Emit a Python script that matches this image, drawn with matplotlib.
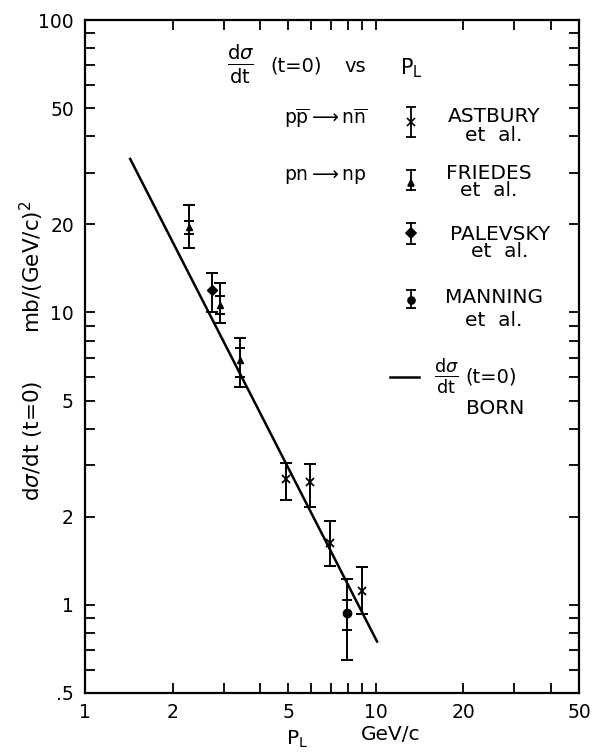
import numpy as np
import matplotlib.pyplot as plt
from matplotlib.ticker import FixedLocator, FixedFormatter, LogLocator, NullFormatter

plt.rcParams['font.family'] = ['DejaVu Sans']
plt.rcParams['mathtext.fontset'] = 'dejavusans'

# Astbury et al.  p pbar -> n nbar
astbury_p = [4.91, 5.94, 6.96, 8.97]
astbury_ds = [2.70, 2.63, 1.63, 1.12]
astbury_hi = [3.06, 3.03, 1.93, 1.35]
astbury_lo = [2.28, 2.16, 1.36, 0.93]

# Friedes et al.  pn -> np
friedes_p = [2.28, 2.91, 3.41]
friedes_ds = [19.6, 10.6, 6.88]
friedes_hi = [23.3, 12.6, 8.18]
friedes_lo = [16.6, 9.2, 5.56]
friedes_ihi = [20.6, 11.4, 7.55]
friedes_ilo = [18.6, 9.9, 6.01]

# Palevsky et al.
palevsky_p = [2.73]
palevsky_ds = [11.9]
palevsky_hi = [13.6]
palevsky_lo = [10.0]

# Manning et al.
manning_p = [7.96]
manning_ds = [0.94]
manning_hi = [1.23]
manning_lo = [0.65]
manning_ihi = [1.04]
manning_ilo = [0.82]

# Born curve end points
born_p = [1.43, 10.1]
born_ds = [33.5, 0.75]

xticks = [1, 2, 5, 10, 20, 50]
xlabels = ['1', '2', '5', '10', '20', '50']
yticks = [0.5, 1, 2, 5, 10, 20, 50, 100]
ylabels = ['.5', '1', '2', '5', '10', '20', '50', '100']

W, H = 592, 755
fig = plt.figure(figsize=(W / 100, H / 100), dpi=100)
L, R, T, B = 85, 579, 20, 693
ax = fig.add_axes([L / W, 1 - B / H, (R - L) / W, (B - T) / H])
ax.set_xscale('log')
ax.set_yscale('log')
ax.set_xlim(1, 50)
ax.set_ylim(0.5, 100)


def yerr(v, hi, lo):
    v = np.array(v)
    return [v - np.array(lo), np.array(hi) - v]


ek = dict(fmt='none', ecolor='black', elinewidth=1.4, capsize=4, capthick=1.4)
ax.errorbar(astbury_p, astbury_ds, yerr=yerr(astbury_ds, astbury_hi, astbury_lo), **ek)
ax.errorbar(friedes_p, friedes_ds, yerr=yerr(friedes_ds, friedes_hi, friedes_lo), **ek)
ax.errorbar(friedes_p, friedes_ds, yerr=yerr(friedes_ds, friedes_ihi, friedes_ilo),
            fmt='none', ecolor='black', elinewidth=0, capsize=3.5, capthick=1.4)
ax.errorbar(palevsky_p, palevsky_ds, yerr=yerr(palevsky_ds, palevsky_hi, palevsky_lo), **ek)
ax.errorbar(manning_p, manning_ds, yerr=yerr(manning_ds, manning_hi, manning_lo), **ek)
ax.errorbar(manning_p, manning_ds, yerr=yerr(manning_ds, manning_ihi, manning_ilo),
            fmt='none', ecolor='black', elinewidth=0, capsize=3.5, capthick=1.4)

ax.plot(astbury_p, astbury_ds, 'x', color='black', ms=6, mew=1.3)
ax.plot(friedes_p, friedes_ds, '^', color='black', ms=5)
ax.plot(palevsky_p, palevsky_ds, 'D', color='black', ms=5)
ax.plot(manning_p, manning_ds, 'o', color='black', ms=6)
ax.plot(born_p, born_ds, color='black', lw=1.8)

# ticks
for a in (ax.xaxis, ax.yaxis):
    a.set_minor_locator(LogLocator(base=10, subs=np.arange(2, 10)))
    a.set_minor_formatter(NullFormatter())
ax.xaxis.set_major_locator(FixedLocator(xticks))
ax.xaxis.set_major_formatter(FixedFormatter(xlabels))
ax.yaxis.set_major_locator(FixedLocator(yticks))
ax.yaxis.set_major_formatter(FixedFormatter(ylabels))
ax.tick_params(which='both', direction='in', top=True, right=True, width=1.3, length=7,
               labelsize=13.5)
ax.tick_params(axis='x', which='major', pad=7)
ax.tick_params(axis='y', which='major', pad=8)
for s in ax.spines.values():
    s.set_linewidth(1.6)


# legend / annotations in axes fraction from pixel positions
def axp(px, py):
    return (px - L) / (R - L), (B - py) / (B - T)


def atext(px, py, s, size=13, ha='left', ls=1.2):
    x, y = axp(px, py)
    ax.text(x, y, s, transform=ax.transAxes, ha=ha, va='center', fontsize=size,
            multialignment='center', linespacing=ls)


atext(227, 64, r'$\frac{\mathrm{d}\sigma}{\mathrm{dt}}$', size=20)
atext(270, 66, '(t=0)', size=14)
atext(344, 66, 'vs', size=14)
atext(400, 68, r'P$_\mathrm{L}$', size=15)

atext(284, 118, r'$\mathrm{p}\overline{\mathrm{p}}\longrightarrow\mathrm{n}\overline{\mathrm{n}}$', size=13.5)
atext(284, 177, r'$\mathrm{pn}\longrightarrow\mathrm{np}$', size=13.5)

atext(494, 126, 'ASTBURY\net  al.', size=14.5, ha='center', ls=0.95)
atext(489, 182, 'FRIEDES\net  al.', size=14.5, ha='center', ls=0.83)
atext(500, 243, 'PALEVSKY\net  al.', size=14.5, ha='center', ls=0.85)
atext(494, 309, 'MANNING\net  al.', size=14.5, ha='center', ls=1.24)
atext(434, 376, r'$\frac{\mathrm{d}\sigma}{\mathrm{dt}}$', size=18)
atext(465, 377, '(t=0)', size=14)
atext(466, 408, 'BORN', size=14.5)

# legend glyphs
glyphs = [(122, 107, 137, 'x'), (183, 170, 190, '^'), (233, 223, 244, 'D'), (300, 290, 308, 'o')]
for cy, top, bot, m in glyphs:
    x0, y0 = axp(411, top)
    _, y1 = axp(411, bot)
    _, yc = axp(411, cy)
    ax.plot([x0, x0], [y0, y1], color='black', lw=1.3, transform=ax.transAxes)
    ax.plot([x0, x0], [y0, y1], ls='none', marker='_', ms=7, mew=1.3, color='black',
            transform=ax.transAxes)
    ax.plot(x0, yc, marker=m, ms=5 if m != 'x' else 6, mew=1.2, color='black',
            transform=ax.transAxes)
bx0, by = axp(390, 377)
bx1, _ = axp(419, 377)
ax.plot([bx0, bx1], [by, by], color='black', lw=1.8, transform=ax.transAxes)

# axis labels
fig.text(32 / W, 1 - 267 / H, r'mb/(GeV/c)$^2$', rotation=90, ha='center', va='center',
         fontsize=15.5)
fig.text(32 / W, 1 - 441 / H, r'd$\sigma$/dt (t=0)', rotation=90, ha='center', va='center',
         fontsize=15.5)
fig.text(286 / W, 1 - 739 / H, r'P$_\mathrm{L}$', ha='left', va='center', fontsize=14.5)
fig.text(361 / W, 1 - 735 / H, 'GeV/c', ha='left', va='center', fontsize=14.5)

fig.savefig('out.png', dpi=100)
